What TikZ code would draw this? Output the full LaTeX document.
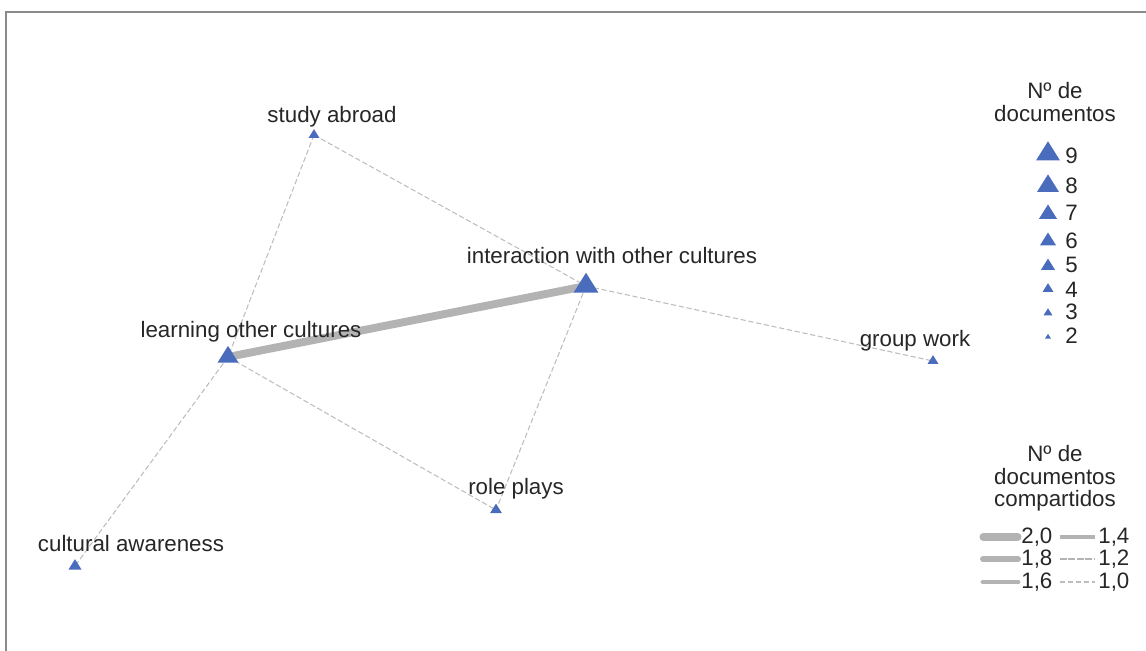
\documentclass[tikz,border=0pt]{standalone}
\usepackage{fontspec}
\setmainfont{Liberation Sans}
\definecolor{triblue}{HTML}{4A6CBD}
\definecolor{edgegray}{HTML}{BDBDBD}
\definecolor{thickgray}{HTML}{B3B3B3}
\definecolor{framegray}{HTML}{8A8A8A}
\newcommand{\tri}[2]{\fill[triblue] (#1) ++(-#2/2,#2*0.27) -- ++(#2,0) -- ++(-#2/2,-#2*0.8) -- cycle;}
\tikzset{
  lbl/.style={anchor=base,inner sep=0pt,font=\fontsize{12.7}{15}\selectfont,text=black!85},
  lbll/.style={lbl,anchor=base west},
  weak/.style={draw=edgegray,line width=0.6pt,dash pattern=on 3pt off 1.5pt},
  strong/.style={draw=thickgray,line width=4.5pt},
}
\begin{document}
\begin{tikzpicture}[x=0.02cm,y=-0.02cm]
\useasboundingbox (0,0) rectangle (1146,651);
\draw[framegray,line width=1.1pt] (6,651) -- (6,12) -- (1146,12);
% node positions
\coordinate (sa) at (314,135);
\coordinate (ic) at (586,286);
\coordinate (lc) at (228,357);
\coordinate (gw) at (933,361);
\coordinate (rp) at (496,510);
\coordinate (ca) at (75,566);
% edges
\draw[weak] (sa) -- (lc);
\draw[weak] (sa) -- (ic);
\draw[weak] (ic) -- (gw);
\draw[weak] (ic) -- (rp);
\draw[weak] (lc) -- (rp);
\draw[weak] (lc) -- (ca);
\draw[strong] (lc) -- (ic);
% triangles
\tri{sa}{11}
\tri{ic}{25}
\tri{lc}{21}
\tri{gw}{11}
\tri{rp}{12}
\tri{ca}{13}
% labels
\node[lbl] (lsa) at (332,123) {study abroad};
\node[lbl] (lic) at (612,264) {interaction with other cultures};
\node[lbl] (llc) at (251,338) {learning other cultures};
\node[lbl] (lgw) at (915,347) {group work};
\node[lbl] (lrp) at (516,495) {role plays};
\node[lbl] (lca) at (131,552) {cultural awareness};
% legend 1
\node[lbl] (t1a) at (1055,99) {Nº de};
\node[lbl] (t1b) at (1055,122) {documentos};
\coordinate (k9) at (1048,154);
\coordinate (k8) at (1048,186);
\coordinate (k7) at (1048,214);
\coordinate (k6) at (1048,241);
\coordinate (k5) at (1048,266);
\coordinate (k4) at (1048,289);
\coordinate (k3) at (1048,313);
\coordinate (k2) at (1048,337);
\tri{k9}{24}
\tri{k8}{22}
\tri{k7}{18}
\tri{k6}{16}
\tri{k5}{14}
\tri{k4}{11}
\tri{k3}{9}
\tri{k2}{6}
\node[lbll] (n9) at (1065,164) {9};
\node[lbll] (n8) at (1065,194) {8};
\node[lbll] (n7) at (1065,221) {7};
\node[lbll] (n6) at (1065,249) {6};
\node[lbll] (n5) at (1065,273) {5};
\node[lbll] (n4) at (1065,298) {4};
\node[lbll] (n3) at (1065,320) {3};
\node[lbll] (n2) at (1065,344) {2};
% legend 2
\node[lbl] (t2a) at (1055,462) {Nº de};
\node[lbl] (t2b) at (1055,485) {documentos};
\node[lbl] (t2c) at (1055,507) {compartidos};
\coordinate (a1) at (983,537); \coordinate (a2) at (1018,537);
\coordinate (b1) at (983,559); \coordinate (b2) at (1018,559);
\coordinate (c1) at (983,582); \coordinate (c2) at (1018,582);
\coordinate (d1) at (1060,537); \coordinate (d2) at (1095,537);
\coordinate (e1) at (1060,559); \coordinate (e2) at (1095,559);
\coordinate (f1) at (1060,582); \coordinate (f2) at (1095,582);
\draw[thickgray,line width=4pt,line cap=round] (a1) -- (a2);
\draw[thickgray,line width=3.4pt,line cap=round] (b1) -- (b2);
\draw[thickgray,line width=2.8pt,line cap=round] (c1) -- (c2);
\draw[thickgray,line width=1.8pt] (d1) -- (d2);
\draw[thickgray,line width=1.1pt,dash pattern=on 4pt off 0.8pt] (e1) -- (e2);
\draw[edgegray,line width=0.6pt,dash pattern=on 3pt off 1.5pt] (f1) -- (f2);
\node[lbll] (v20) at (1021,543) {2,0};
\node[lbll] (v18) at (1021,565) {1,8};
\node[lbll] (v16) at (1021,588) {1,6};
\node[lbll] (v14) at (1098,543) {1,4};
\node[lbll] (v12) at (1098,565) {1,2};
\node[lbll] (v10) at (1098,588) {1,0};
\end{tikzpicture}
\end{document}
